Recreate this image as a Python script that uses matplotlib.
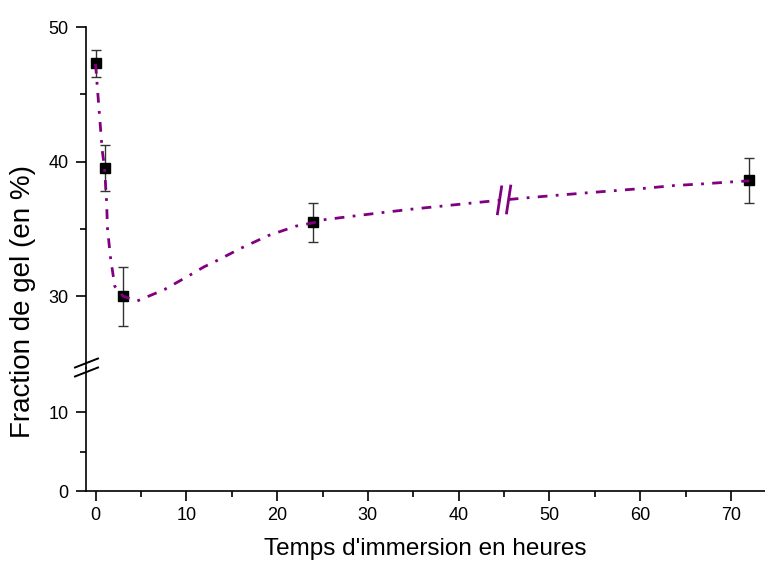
import numpy as np
import matplotlib.pyplot as plt
from matplotlib.lines import Line2D

plt.rcParams['font.family'] = ['Liberation Sans', 'DejaVu Sans']
plt.rcParams['lines.scale_dashes'] = False

# measured points
temps = [0, 1, 3, 24, 72]
fraction = [47.3, 39.5, 30.0, 35.5, 38.6]
erreur = [1.0, 1.7, 2.2, 1.45, 1.65]

# smoothed curve
curve_x = [0, 0.74, 0.99, 1.21, 1.32, 1.65, 2.12, 3.05, 4.59, 6.08, 7.59, 10.37,
           11.91, 13.2, 16.06, 19.0, 22.08, 24.02, 25.12, 28.35, 31.65, 34.84,
           38.06, 41.25, 43.45, 47.49, 50.79, 54.09, 57.32, 60.51, 63.7, 66.92,
           70.22, 72]
curve_y = [47.26, 40.81, 39.56, 37.11, 35.01, 32.87, 30.74, 30.0, 29.65, 30.07,
           30.5, 31.56, 32.17, 32.59, 33.58, 34.5, 35.21, 35.46, 35.68, 35.95,
           36.22, 36.47, 36.69, 36.91, 37.06, 37.31, 37.5, 37.68, 37.85, 38.02,
           38.22, 38.35, 38.5, 38.57]

x_ticks = [0, 10, 20, 30, 40, 50, 60, 70]
upper_ticks = [30, 40, 50]
lower_ticks = [0, 10]

W, H = 765, 561
fig = plt.figure(figsize=(W / 100, H / 100), dpi=100)
left, right = 86 / W, 1.0
bottom, junction, top = 1 - 491 / H, 1 - 368 / H, 1 - 27 / H
ax_lo = fig.add_axes([left, bottom, right - left, junction - bottom])
ax_hi = fig.add_axes([left, junction, right - left, top - junction], sharex=ax_lo)

purple = '#800080'
for ax in (ax_hi, ax_lo):
    ax.errorbar(temps, fraction, yerr=erreur, fmt='s', color='black', ms=7.2,
                ecolor='#333333', elinewidth=1, capsize=3.8, capthick=1, zorder=3)
    ax.plot(curve_x, curve_y, color=purple, lw=2,
            linestyle=(0, (7, 6, 2, 6)), zorder=4)
    ax.spines['right'].set_visible(False)
    ax.spines['top'].set_visible(False)
    for s in ('left', 'bottom'):
        ax.spines[s].set_linewidth(1.2)
    ax.tick_params(which='major', direction='out', length=7.5, width=1.2,
                   labelsize=13, pad=4)
    ax.tick_params(which='minor', direction='out', length=4, width=1.2)
    ax.tick_params(axis='y', which='major', pad=5)

ax_lo.set_xlim(-1.05, 73.74)
ax_lo.set_xticks(x_ticks)
ax_lo.set_xticks([5, 15, 25, 35, 45, 55, 65], minor=True)
ax_lo.set_ylim(0, 15.6)
ax_lo.set_yticks(lower_ticks)
ax_lo.set_yticks([5], minor=True)

ax_hi.set_ylim(24.67, 50)
ax_hi.set_yticks(upper_ticks)
ax_hi.set_yticks([35, 45], minor=True)
ax_hi.spines['bottom'].set_visible(False)
ax_hi.tick_params(axis='x', which='both', bottom=False, labelbottom=False)
ax_hi.patch.set_alpha(0)

# break marks on the curve around x=45
for bx in (44.5, 45.5):
    by = np.interp(bx, curve_x, curve_y)
    ax_hi.plot([bx - 0.25, bx + 0.25], [by - 1.1, by + 1.1], color=purple,
               lw=2, zorder=5, solid_capstyle='butt')

# break marks on the y axis
for cy in (363, 372):
    fig.add_artist(Line2D([75 / W, 98 / W], [1 - (cy + 4.5) / H, 1 - (cy - 4.5) / H],
                          color='black', lw=1.4))

ax_lo.set_xlabel("Temps d'immersion en heures", fontsize=17.5, labelpad=10)
fig.text(23 / W, 1 - 302 / H, 'Fraction de gel (en %)', rotation=90,
         ha='center', va='center', fontsize=20)

fig.savefig('out.png', dpi=100)
